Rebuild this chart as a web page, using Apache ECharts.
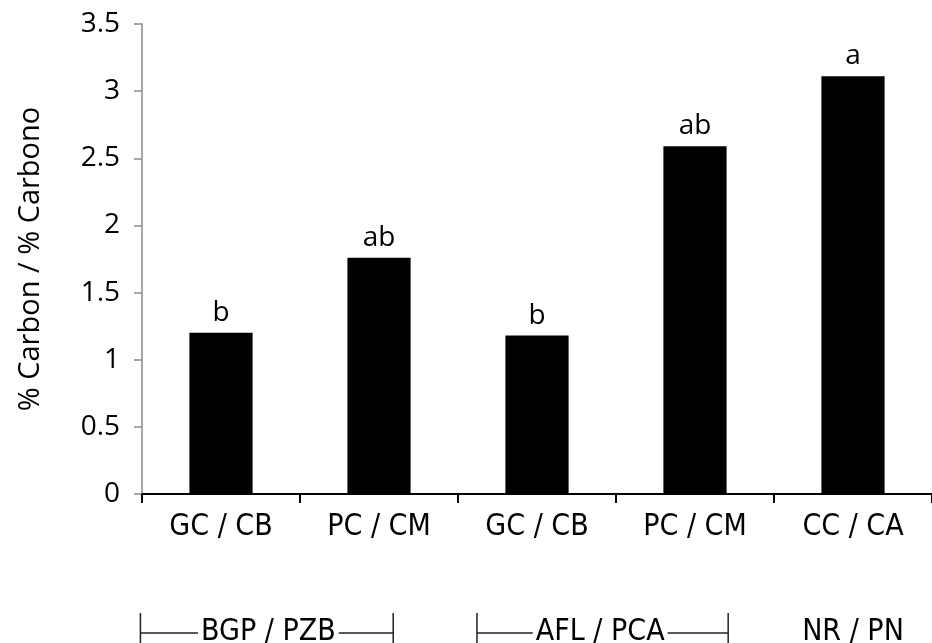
<!DOCTYPE html>
<html>
<head>
<meta charset="utf-8">
<script src="https://cdn.jsdelivr.net/npm/echarts@6/dist/echarts.min.js"></script>
<style>
html,body{margin:0;padding:0;background:#fff;}
#c{width:932px;height:643px;}
</style>
</head>
<body>
<div id="c"></div>
<script>
const categories = ['GC / CB', 'PC / CM', 'GC / CB', 'PC / CM', 'CC / CA'];
const values = [1.20, 1.76, 1.18, 2.59, 3.11];
const letters = ['b', 'ab', 'b', 'ab', 'a'];
const groupLabels = ['BGP / PZB', 'AFL / PCA', 'NR / PN'];
const yAxisName = '% Carbon / % Carbono';
const yMin = 0, yMax = 3.5, yStep = 0.5;

const narrow = '"Liberation Sans Narrow","DejaVu Sans Condensed","Liberation Sans",sans-serif';
const sans = '"Open Sans","Noto Sans",sans-serif';

const chart = echarts.init(document.getElementById('c'), null, {renderer: 'canvas'});
chart.setOption({
  animation: false,
  backgroundColor: '#fff',
  grid: {left: 142, top: 24, width: 800, height: 470},
  xAxis: {
    type: 'category',
    data: categories,
    axisLine: {lineStyle: {color: '#000', width: 2}},
    axisTick: {show: true, length: 9, lineStyle: {color: '#000', width: 2}},
    axisLabel: {color: '#000', fontFamily: narrow, fontSize: 30, margin: 18, interval: 0}
  },
  yAxis: {
    type: 'value',
    min: yMin, max: yMax, interval: yStep,
    name: yAxisName,
    nameLocation: 'middle',
    nameGap: 97,
    nameTextStyle: {color: '#000', fontFamily: sans, fontSize: 29},
    axisLine: {show: true, lineStyle: {color: '#8a8a8a', width: 1.5}},
    axisTick: {show: true, length: 8, lineStyle: {color: '#8a8a8a', width: 1.5}},
    axisLabel: {color: '#000', fontFamily: sans, fontSize: 28, margin: 22, padding: [5, 0, 0, 0]},
    splitLine: {show: false}
  },
  series: [{
    type: 'bar',
    data: values,
    barWidth: '40%',
    itemStyle: {color: '#000'},
    label: {
      show: true,
      position: 'top',
      distance: 6,
      color: '#000',
      fontFamily: sans,
      fontSize: 28,
      formatter: p => letters[p.dataIndex]
    }
  }]
});

// group brackets below the axis, placed relative to category bands
const c0 = chart.convertToPixel({xAxisIndex: 0}, 0);
const c1 = chart.convertToPixel({xAxisIndex: 0}, 1);
const band = c1 - c0;
const x0 = c0 - band / 2;
const lineY = 633;
const brackets = [
  {from: -0.01, to: 1.59, text: 0.8},
  {from: 2.12, to: 3.71, text: 2.9}
];
const g = [];
brackets.forEach((b, i) => {
  const xa = x0 + b.from * band, xb = x0 + b.to * band;
  g.push({type: 'line', shape: {x1: xa, y1: lineY, x2: xb, y2: lineY}, style: {stroke: '#222', lineWidth: 1.5}});
  g.push({type: 'line', shape: {x1: xa, y1: 613, x2: xa, y2: 650}, style: {stroke: '#222', lineWidth: 1.5}});
  g.push({type: 'line', shape: {x1: xb, y1: 613, x2: xb, y2: 650}, style: {stroke: '#222', lineWidth: 1.5}});
  g.push({type: 'text', z: 10, style: {text: groupLabels[i], x: x0 + b.text * band, y: 632,
    align: 'center', verticalAlign: 'middle', fill: '#000', fontFamily: narrow, fontSize: 30,
    backgroundColor: '#fff', padding: [0, 3]}});
});
g.push({type: 'text', z: 10, style: {text: groupLabels[2], x: x0 + 4.5 * band, y: 632,
  align: 'center', verticalAlign: 'middle', fill: '#000', fontFamily: narrow, fontSize: 30}});
chart.setOption({graphic: g});
</script>
</body>
</html>
